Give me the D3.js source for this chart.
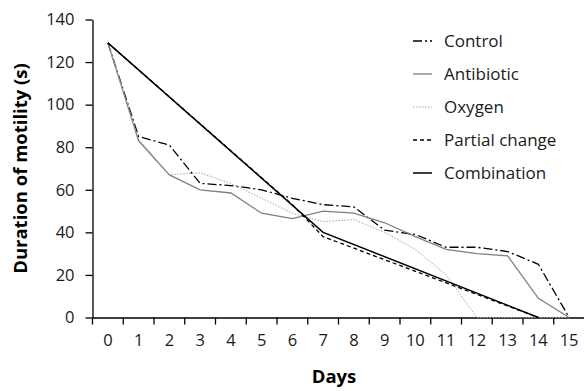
<!DOCTYPE html>
<html>
<head>
<meta charset="utf-8">
<script src="https://cdn.jsdelivr.net/npm/d3@7/dist/d3.min.js"></script>
<style>
  body { margin: 0; background: #fff; }
  svg { display: block; }
</style>
</head>
<body>
<script>
var days = [0, 1, 2, 3, 4, 5, 6, 7, 8, 9, 10, 11, 12, 13, 14, 15]
var yTicks = [0, 20, 40, 60, 80, 100, 120, 140]

// null = not measured that day, line joins the measured days
var control     = [129, 85, 81, 63, 62, 60, 56, 53, 52, 41, 39, 33, 33, 31, 25, 0]
var antibiotic  = [129, 83, 67, 60, 58.5, 49, 46.5, 50, 49, 44.5, 38, 32, 30, 29, 9, 0]
var oxygen      = [129, 84, 67, 68, 63, 56, 49, 45, 46, 40, 32, 20, 0, 0, 0, 0]
var partial     = [129, null, null, null, null, null, 53, 38, null, null, null, null, null, null, 0, null]
var combination = [129, null, null, null, null, null, null, 40, null, null, null, null, null, null, 0, null]

var names = ['Control', 'Antibiotic', 'Oxygen', 'Partial change', 'Combination']
var values = [control, antibiotic, oxygen, partial, combination]

var styles = [
  { color: '#000', width: 1.3, dash: '9,3,2,3' },
  { color: '#7f7f7f', width: 1.3, dash: null },
  { color: '#a6a6a6', width: 1, dash: '1.5,1.5' },
  { color: '#000', width: 1.3, dash: '4,3' },
  { color: '#000', width: 1.5, dash: null }
]

var w = 584
var h = 391
var font = '"Open Sans", "Liberation Sans", sans-serif'

var svg = d3.select('body')
  .append('svg')
  .attr('width', w)
  .attr('height', h)

var x = d3.scaleBand()
  .domain(days)
  .range([92.5, 584.5])

var y = d3.scaleLinear()
  .domain([0, 140])
  .range([317.5, 19.5])

// x axis: ticks sit between the days
var xAxis = svg.append('g')
  .attr('transform', 'translate(0,' + y(0) + ')')
  .call(d3.axisBottom(x).tickSize(0).tickPadding(17))

xAxis.selectAll('.tick')
  .append('line')
  .attr('x1', -x.bandwidth() / 2)
  .attr('x2', -x.bandwidth() / 2)
  .attr('y1', 0)
  .attr('y2', 7)
  .attr('stroke', '#000')

var yAxis = svg.append('g')
  .attr('transform', 'translate(' + x.range()[0] + ',0)')
  .call(d3.axisLeft(y).tickValues(yTicks).tickSize(7).tickPadding(11).tickSizeOuter(0))

svg.selectAll('.domain').attr('stroke', '#000').attr('stroke-width', 1.3)
svg.selectAll('.tick line').attr('stroke-width', 1.3)
svg.selectAll('.tick text')
  .attr('font-family', font)
  .attr('font-size', '16.5px')
  .attr('fill', '#1a1a1a')

// series lines
var line = d3.line()
  .x(function(d){ return x(d.day) + x.bandwidth() / 2 })
  .y(function(d){ return y(d.v) })

values.forEach(function(vals, i){
  var pts = vals.map(function(v, j){ return { day: days[j], v: v } })
    .filter(function(d){ return d.v !== null })
  svg.append('path')
    .datum(pts)
    .attr('d', line)
    .attr('fill', 'none')
    .attr('stroke', styles[i].color)
    .attr('stroke-width', styles[i].width)
    .attr('stroke-dasharray', styles[i].dash)
})

// legend
var legend = svg.selectAll('.legend')
  .data(names)
  .enter()
  .append('g')
  .attr('transform', function(d, i){ return 'translate(413,' + (41 + i * 33) + ')' })

legend.append('line')
  .attr('x1', 0)
  .attr('x2', 19)
  .attr('stroke', function(d, i){ return styles[i].color })
  .attr('stroke-width', function(d, i){ return styles[i].width })
  .attr('stroke-dasharray', function(d, i){ return styles[i].dash })

legend.append('text')
  .text(function(d){ return d })
  .attr('x', 31)
  .attr('dy', '0.35em')
  .attr('font-family', font)
  .attr('font-size', '17px')
  .attr('fill', '#1a1a1a')

// axis titles
svg.append('text')
  .text('Days')
  .attr('x', 334)
  .attr('y', 383)
  .attr('text-anchor', 'middle')
  .attr('font-family', font)
  .attr('font-size', '18.5px')
  .attr('font-weight', 'bold')

svg.append('text')
  .text('Duration of motility (s)')
  .attr('transform', 'translate(27,' + ((y(0) + y(140)) / 2) + ') rotate(-90)')
  .attr('text-anchor', 'middle')
  .attr('font-family', font)
  .attr('font-size', '18.5px')
  .attr('font-weight', 'bold')
</script>
</body>
</html>
